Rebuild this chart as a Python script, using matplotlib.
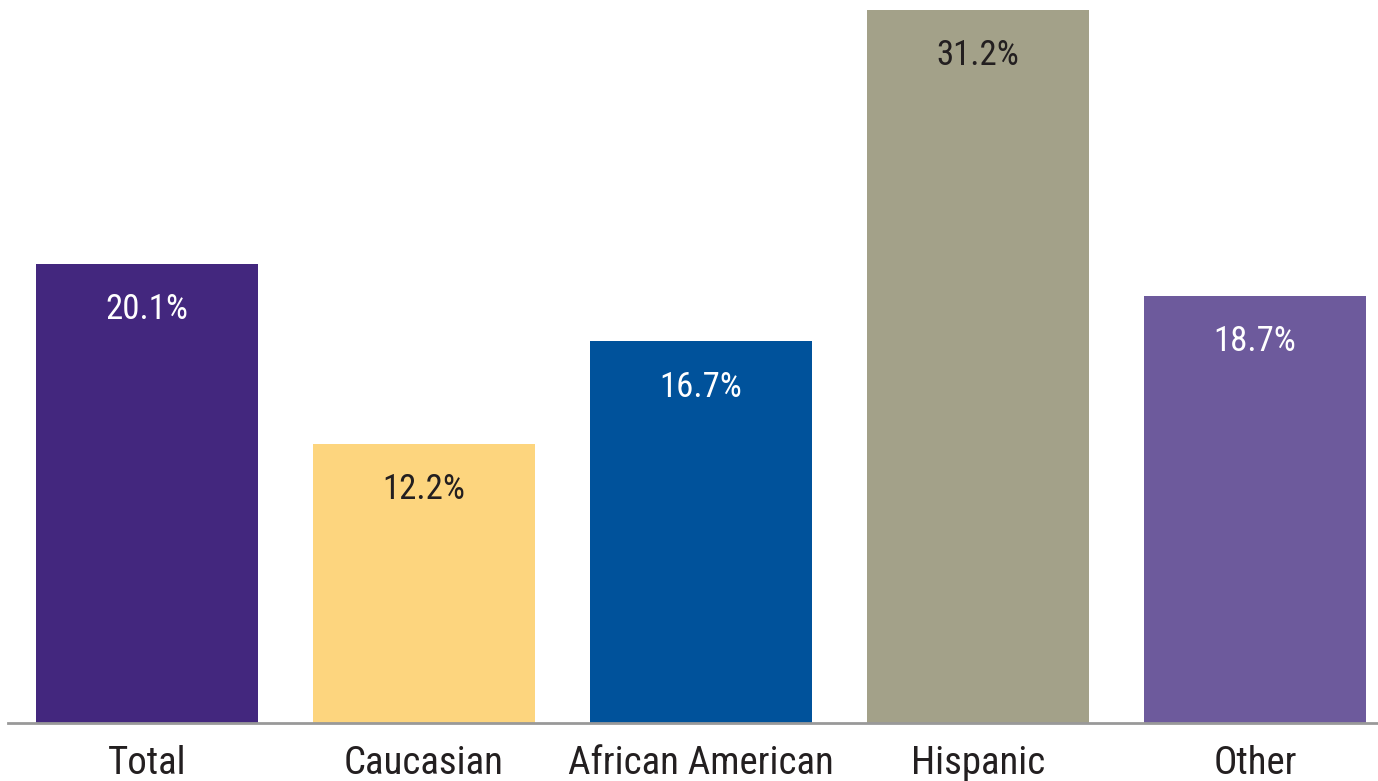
import matplotlib
matplotlib.use("Agg")
import matplotlib.pyplot as plt

categories = ["Total", "Caucasian", "African American", "Hispanic", "Other"]
values = [20.1, 12.2, 16.7, 31.2, 18.7]
colors = ["#43277e", "#fdd57e", "#00529b", "#a3a189", "#6d5a9c"]
text_colors = ["white", "#231f20", "white", "#231f20", "white"]

font = ["Roboto Condensed", "DejaVu Sans"]

fig = plt.figure(figsize=(13.78, 7.81), dpi=100)
ax = fig.add_axes([8 / 1378, 58 / 781, 1 - 8 / 1378, 723 / 781])

x = list(range(len(categories)))
ax.bar(x, values, width=0.8, color=colors)
for i, v in enumerate(values):
    ax.text(i, v - 2.0, f"{v}%", ha="center", va="center",
            color=text_colors[i], fontsize=25, family=font)

ax.set_xlim(-0.502, 4.444)
ax.set_ylim(0, 31.64)
ax.set_xticks(x)
ax.set_xticklabels(categories, fontsize=28, family=font, color="#231f20")
ax.tick_params(axis="x", length=0, pad=16)
ax.set_yticks([])
for s in ["top", "right", "left"]:
    ax.spines[s].set_visible(False)
ax.spines["bottom"].set_color("#999999")
ax.spines["bottom"].set_linewidth(2)

fig.savefig("out.png", dpi=100)
